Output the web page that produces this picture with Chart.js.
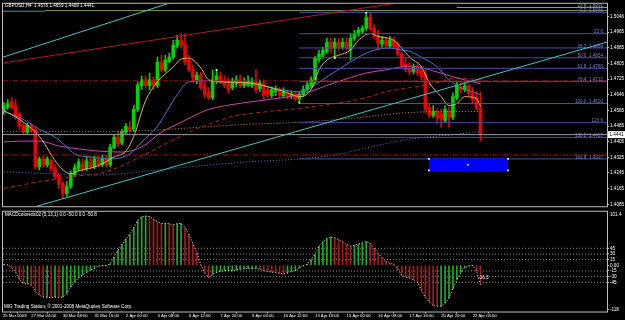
<!DOCTYPE html>
<html>
<head>
<meta charset="utf-8">
<title>GBPUSD,H4</title>
<script src="https://cdn.jsdelivr.net/npm/chart.js@4.4.1/dist/chart.umd.min.js"></script>
<style>
  html, body { margin:0; padding:0; background:#000; }
  body { width:625px; height:320px; position:relative; overflow:hidden; }
  canvas { position:absolute; left:0; }
  #mainChart { top:0; }
  #macdChart { top:208px; }
</style>
</head>
<body>
<canvas id="mainChart" width="625" height="210"></canvas>
<canvas id="macdChart" width="625" height="112"></canvas>
<script>
// ---------------- DATA ----------------
const symbolName = 'GBPUSD,H4';
const open = [
1.4559,1.4580,1.4610,1.4590,1.4549,1.4489,1.4453,1.4489,1.4469,1.4277,
1.4317,1.4287,1.4307,1.4267,1.4236,1.4191,1.4140,1.4176,1.4236,1.4267,
1.4292,1.4267,1.4302,1.4277,1.4312,1.4287,1.4317,1.4287,1.4373,1.4428,
1.4398,1.4453,1.4479,1.4469,1.4570,1.4691,1.4721,1.4691,1.4721,1.4691,
1.4812,1.4772,1.4817,1.4837,1.4893,1.4923,1.4903,1.4822,1.4772,1.4721,
1.4746,1.4691,1.4660,1.4630,1.4716,1.4741,1.4721,1.4711,1.4681,1.4701,
1.4721,1.4691,1.4696,1.4691,1.4711,1.4676,1.4701,1.4671,1.4640,1.4660,
1.4671,1.4640,1.4655,1.4635,1.4650,1.4625,1.4645,1.4671,1.4691,1.4711,
1.4827,1.4847,1.4867,1.4913,1.4883,1.4913,1.4888,1.4913,1.4873,1.4933,
1.4953,1.4968,1.4984,1.5039,1.4984,1.4948,1.4903,1.4923,1.4893,1.4923,
1.4903,1.4852,1.4802,1.4782,1.4761,1.4787,1.4772,1.4751,1.4580,1.4539,
1.4559,1.4549,1.4514,1.4559,1.4529,1.4630,1.4686,1.4671,1.4691,1.4655,
1.4630,1.4576];
const high = [
1.4605,1.4620,1.4630,1.4620,1.4554,1.4499,1.4499,1.4499,1.4479,1.4327,
1.4332,1.4327,1.4317,1.4287,1.4241,1.4201,1.4201,1.4256,1.4292,1.4317,
1.4317,1.4327,1.4327,1.4332,1.4332,1.4337,1.4337,1.4393,1.4443,1.4458,
1.4469,1.4499,1.4509,1.4590,1.4711,1.4741,1.4741,1.4756,1.4736,1.4837,
1.4847,1.4847,1.4857,1.4923,1.4948,1.4958,1.4958,1.4847,1.4797,1.4761,
1.4761,1.4711,1.4681,1.4772,1.4772,1.4761,1.4741,1.4731,1.4731,1.4741,
1.4746,1.4731,1.4741,1.4731,1.4772,1.4721,1.4721,1.4691,1.4686,1.4691,
1.4681,1.4681,1.4671,1.4665,1.4660,1.4660,1.4691,1.4711,1.4736,1.4842,
1.4873,1.4888,1.4933,1.4933,1.4933,1.4933,1.4933,1.4938,1.4958,1.4974,
1.4989,1.4999,1.5064,1.5064,1.5004,1.4974,1.4943,1.4938,1.4943,1.4938,
1.4913,1.4862,1.4832,1.4807,1.4802,1.4802,1.4792,1.4772,1.4600,1.4590,
1.4570,1.4570,1.4590,1.4580,1.4655,1.4711,1.4706,1.4706,1.4701,1.4681,
1.4660,1.4659];
const low = [
1.4544,1.4570,1.4570,1.4519,1.4469,1.4443,1.4443,1.4453,1.4267,1.4261,
1.4277,1.4277,1.4256,1.4216,1.4166,1.4115,1.4125,1.4166,1.4226,1.4256,
1.4251,1.4256,1.4267,1.4267,1.4277,1.4277,1.4277,1.4277,1.4368,1.4378,
1.4388,1.4443,1.4453,1.4458,1.4559,1.4671,1.4681,1.4671,1.4671,1.4681,
1.4761,1.4761,1.4807,1.4827,1.4883,1.4883,1.4797,1.4761,1.4711,1.4701,
1.4671,1.4630,1.4620,1.4620,1.4701,1.4701,1.4681,1.4655,1.4671,1.4686,
1.4681,1.4681,1.4686,1.4681,1.4655,1.4660,1.4620,1.4630,1.4630,1.4640,
1.4630,1.4630,1.4625,1.4625,1.4615,1.4605,1.4635,1.4660,1.4681,1.4701,
1.4812,1.4832,1.4857,1.4862,1.4832,1.4873,1.4878,1.4873,1.4822,1.4923,
1.4943,1.4958,1.4974,1.4974,1.4933,1.4873,1.4888,1.4888,1.4883,1.4883,
1.4842,1.4777,1.4761,1.4746,1.4751,1.4741,1.4721,1.4554,1.4529,1.4529,
1.4499,1.4479,1.4504,1.4479,1.4519,1.4620,1.4655,1.4660,1.4640,1.4605,
1.4570,1.4409];
const close = [
1.4590,1.4600,1.4580,1.4529,1.4484,1.4453,1.4489,1.4463,1.4277,1.4317,
1.4287,1.4317,1.4267,1.4226,1.4186,1.4140,1.4176,1.4241,1.4272,1.4302,
1.4261,1.4307,1.4277,1.4317,1.4287,1.4317,1.4287,1.4378,1.4428,1.4393,
1.4458,1.4484,1.4463,1.4570,1.4696,1.4721,1.4691,1.4721,1.4691,1.4812,
1.4772,1.4822,1.4837,1.4898,1.4923,1.4898,1.4812,1.4772,1.4731,1.4746,
1.4681,1.4645,1.4630,1.4721,1.4741,1.4711,1.4691,1.4671,1.4711,1.4721,
1.4691,1.4711,1.4716,1.4711,1.4671,1.4706,1.4640,1.4645,1.4671,1.4676,
1.4640,1.4660,1.4635,1.4650,1.4625,1.4650,1.4671,1.4696,1.4721,1.4832,
1.4852,1.4873,1.4913,1.4883,1.4913,1.4888,1.4913,1.4883,1.4933,1.4958,
1.4974,1.4984,1.5039,1.4984,1.4943,1.4908,1.4923,1.4898,1.4923,1.4893,
1.4852,1.4792,1.4772,1.4761,1.4787,1.4756,1.4736,1.4570,1.4539,1.4559,
1.4529,1.4519,1.4570,1.4529,1.4635,1.4691,1.4671,1.4691,1.4650,1.4620,
1.4576,1.4441];

// MACD histogram values (one per bar)
const macd = [
2,1,-6,-18,-38,-48,-48,-52,-68,-79,
-84,-84,-85,-84,-85,-84,-74,-57,-44,-33,
-25,-19,-12,-8,-2,-1,-1,4,22,40,
55,70,82,100,118,128,130,129,122,115,
111,111,110,107,110,111,100,82,57,33,
2,-20,-32,-24,-19,-16,-14,-14,-14,-12,
-10,-9,-8,-8,-8,-11,-14,-16,-18,-19,
-21,-23,-20,-16,-14,-6,-1,3,15,30,
51,62,71,75,73,68,62,54,51,53,
56,59,63,58,45,32,20,10,5,3,
-10,-27,-31,-34,-38,-45,-66,-85,-97,-106,
-108,-108,-100,-87,-62,-38,-19,-6,-2,-1,
-15,-50.8];

// Moving averages: [bar index, price]
const maFast = [[0,1.4564],[4,1.4519],[9,1.4433],[14,1.4282],[17,1.4241],[19,1.4256],[24,1.4282],[28,1.4327],[31,1.4357],[33,1.4433],[36,1.4615],[39,1.4711],[43,1.4787],[45,1.4827],[47,1.4832],[50,1.4782],[52,1.4721],[55,1.4711],[62,1.4706],[67,1.4686],[72,1.4655],[75,1.4635],[78,1.4671],[80,1.4772],[82,1.4822],[85,1.4847],[88,1.4873],[90,1.4923],[93,1.4958],[95,1.4943],[99,1.4923],[101,1.4883],[103,1.4837],[106,1.4787],[108,1.4706],[111,1.4635],[113,1.4590],[115,1.4600],[117,1.4635],[120,1.4625],[121,1.4585]];
const maMid = [[0,1.4559],[4,1.4529],[9,1.4469],[13,1.4428],[16,1.4378],[18,1.4342],[22,1.4327],[27,1.4317],[32,1.4342],[35,1.4403],[39,1.4484],[44,1.4645],[47,1.4711],[52,1.4716],[55,1.4711],[62,1.4706],[68,1.4681],[72,1.4665],[75,1.4660],[78,1.4681],[82,1.4736],[86,1.4787],[90,1.4837],[94,1.4873],[98,1.4883],[101,1.4873],[103,1.4867],[106,1.4837],[110,1.4787],[113,1.4721],[116,1.4681],[119,1.4660],[121,1.4645]];
const maSlow = [[0,1.4403],[4,1.4408],[9,1.4408],[14,1.4383],[19,1.4368],[24,1.4357],[30,1.4352],[35,1.4378],[40,1.4453],[45,1.4504],[50,1.4554],[52,1.4570],[58,1.4595],[67,1.4620],[75,1.4645],[84,1.4706],[92,1.4756],[97,1.4772],[103,1.4792],[110,1.4761],[115,1.4731],[121,1.4701]];
const maRedDash = [[0,1.4166],[4,1.4181],[9,1.4201],[14,1.4216],[19,1.4231],[24,1.4241],[30,1.4282],[35,1.4332],[40,1.4383],[45,1.4433],[50,1.4479],[52,1.4494],[58,1.4534],[67,1.4559],[75,1.4575],[84,1.4600],[92,1.4630],[97,1.4660],[103,1.4681],[110,1.4706],[115,1.4731],[121,1.4721]];
const maOrangeDot = [[0,1.4458],[12,1.4458],[25,1.4458],[37,1.4463],[50,1.4479],[62,1.4494],[75,1.4504],[88,1.4524],[103,1.4554],[115,1.4559],[121,1.4559]];
const maBlueDot = [[0,1.4251],[12,1.4241],[25,1.4236],[37,1.4256],[50,1.4282],[62,1.4302],[75,1.4317],[84,1.4337],[92,1.4373],[103,1.4418],[115,1.4443],[121,1.4458]];

// Objects
const trendCyanUpper = [[-0.2,1.4837],[47.3,1.5148]];
const trendRedUpper  = [[-0.2,1.4807],[105.6,1.5132]];
const trendCyanLower = [[6.3,1.4063],[153.1,1.4914]];
const dashDotLevels = [1.4716, 1.4337];
const bidPrice = 1.4441;
const fibStartIdx = 75;
const fibPrices = [1.5066,1.4957,1.4884,1.4834,1.4780,1.4712,1.4600,1.4502,1.4427,1.4317];
const fibLabels = ['0.0  1.5066','23.6','38.2  1.4884','50.0  1.4834','61.8  1.4780','76.4  1.4712','100.0  1.4600','123.6','138.2  1.4427','161.8  1.4317'];
const topTealLeft = [[-0.2,1.5072],[10.5,1.5072]];
const topOlive = [[10.5,1.5075],[153.1,1.5075]];
const topTealRight = [[115.0,1.5091],[153.1,1.5091]];
const topTealLabel = '23.6  1.5091';
const rectIdx = [107.9, 128.0];
const rectPrices = [1.4317, 1.4258];
const rectHandles = [[107.9,1.4317],[128.0,1.4317],[107.9,1.4258],[128.0,1.4258],[117.8,1.4287]];
const anchorMarks = [[54,1.4772],[75,1.4605],[92,1.5064],[84,1.4832]];

// Axes
const priceTicks = [1.5046,1.4965,1.4885,1.4805,1.4725,1.4646,1.4565,1.4485,1.4405,1.4325,1.4245,1.4165,1.4085];
const priceMin = 1.4075, priceMax = 1.5110;
const timeTickIdx = [-0.2,7,15,23,31,39,47,55,63,71,79,87,95,103,111,119];
const timeLabels = ['25 Mar 2009','27 Mar 04:00','30 Mar 08:00','31 Mar 16:00','2 Apr 00:00','3 Apr 08:00','6 Apr 12:00','7 Apr 20:00','9 Apr 04:00','10 Apr 12:00','13 Apr 16:00','15 Apr 00:00','16 Apr 08:00','17 Apr 16:00','20 Apr 20:00','22 Apr 04:00'];
const macdTicks = [45,30,15,0,-15,-30,-45,-118];
const macdLevels = [45,30,15,-15,-30,-45];
const macdMin = -122.1, macdMax = 141.6;
const macdMaxLabel = '101.4';
const macdHeader = 'MACDcoloreds02 (5,13,1) 0.0 -50.0 0.0 -50.8';
const copyrightText = 'MIG Trading Station, \u00A9 2001-2008 MetaQuotes Software Corp.';
const macdNote = {x:120.4, y:-32.5, text:'-16.3'};

// ---------------- STYLE / BUILD ----------------
const X_MIN = -0.2, X_MAX = 153.1;
const FONT = '"Liberation Sans", Arial, sans-serif';
Chart.defaults.font.family = FONT;
Chart.defaults.color = '#ffffff';
const N = open.length;
const candleUp = '#00d200', candleDown = '#e80000';
const pts = arr => arr.map(p => ({x:p[0], y:p[1]}));
const hline = (price, from) => [{x: from, y: price}, {x: X_MAX, y: price}];
function lineDs(data, color, extra) {
  return Object.assign({type:'line', data, borderColor:color, backgroundColor:color, borderWidth:1,
    pointRadius:0, pointHoverRadius:0, fill:false, tension:0, order:3, clip:0}, extra || {});
}
const candleColor = ctx => close[ctx.dataIndex] >= open[ctx.dataIndex] ? candleUp : candleDown;

const framePlugin = {
  id:'frame',
  afterDraw(chart) {
    const {ctx, chartArea:a} = chart;
    ctx.save();
    ctx.strokeStyle = '#bdbdbd';
    ctx.lineWidth = 1;
    ctx.strokeRect(a.left - 0.5, a.top - 0.5, a.right - a.left + 1, a.bottom - a.top + 1);
    ctx.restore();
  }
};

const mainTextPlugin = {
  id:'mainText',
  afterDraw(chart) {
    const {ctx, chartArea:a, scales:{y}} = chart;
    ctx.save();
    ctx.font = '4.6px ' + FONT;
    ctx.textAlign = 'left'; ctx.textBaseline = 'middle'; ctx.fillStyle = '#ffffff';
    const hdr = symbolName + '  ' + [open[N-1], high[N-1], low[N-1], close[N-1]].map(v => v.toFixed(4)).join(' ');
    ctx.fillText(hdr, a.left + 2, a.top + 2.3);
    ctx.textAlign = 'right'; ctx.textBaseline = 'alphabetic';
    ctx.fillStyle = '#7c7cd4';
    fibPrices.forEach((p, k) => { ctx.fillText(fibLabels[k], a.right - 4, y.getPixelForValue(p) - 0.3); });
    ctx.fillStyle = '#8fb0a0';
    ctx.fillText(topTealLabel, a.right - 4, y.getPixelForValue(topTealRight[0][1]) - 0.3);
    // current price box
    const py = y.getPixelForValue(close[N-1]);
    ctx.fillStyle = '#ffffff';
    ctx.fillRect(a.right + 1, py - 3.5, 17, 7);
    ctx.fillStyle = '#000000'; ctx.textAlign = 'left'; ctx.textBaseline = 'middle';
    ctx.fillText(close[N-1].toFixed(4), a.right + 2.5, py + 0.3);
    ctx.restore();
  }
};

const mainDatasets = [
  lineDs([{x:rectIdx[0],y:rectPrices[0]},{x:rectIdx[1],y:rectPrices[0]}], '#0000ff', {order:0}),
  lineDs([{x:rectIdx[0],y:rectPrices[1]},{x:rectIdx[1],y:rectPrices[1]}], '#0000ff', {order:0, fill:'-1', backgroundColor:'#0000ff'}),
  lineDs(pts(rectHandles), '#ffffff', {order:-1, showLine:false, pointRadius:1.2, pointStyle:'rect', pointBackgroundColor:'#ffffff', pointBorderWidth:0}),
  lineDs(pts(anchorMarks), '#ffffff', {order:-1, showLine:false, pointRadius:1.2, pointStyle:'rect', pointBackgroundColor:'#ffffff', pointBorderWidth:0}),
  lineDs(pts(trendCyanUpper), '#3fc4c4', {order:1}),
  lineDs(pts(trendRedUpper), '#b01822', {order:1}),
  lineDs(pts(trendCyanLower), '#3fc4c4', {order:1}),
  lineDs(pts(topTealLeft), '#2f9f9f', {order:1}),
  lineDs(pts(topOlive), '#7e9a4c', {order:1}),
  lineDs(pts(topTealRight), '#3fb8b8', {order:1}),
  ...dashDotLevels.map(p => lineDs(hline(p, X_MIN), '#a81010', {order:2, borderDash:[5,2,1,2]})),
  lineDs(hline(bidPrice, X_MIN), '#9c9c9c', {order:2}),
  ...fibPrices.map(p => lineDs(hline(p, fibStartIdx), '#4d4daa', {order:2})),
  lineDs(pts(maFast), '#e2b24a', {cubicInterpolationMode:'monotone'}),
  lineDs(pts(maMid), '#4478c8', {cubicInterpolationMode:'monotone'}),
  lineDs(pts(maSlow), '#cc44aa', {cubicInterpolationMode:'monotone'}),
  lineDs(pts(maRedDash), '#b81c2c', {cubicInterpolationMode:'monotone', borderDash:[4,3]}),
  lineDs(pts(maOrangeDot), '#d88a38', {cubicInterpolationMode:'monotone', borderDash:[1,2]}),
  lineDs(pts(maBlueDot), '#3f7fcf', {cubicInterpolationMode:'monotone', borderDash:[1,2]}),
  {type:'bar', data: open.map((o,i) => ({x:i, y:[o, close[i]]})), backgroundColor:candleColor, barThickness:3, grouped:false, order:5, minBarLength:1},
  {type:'bar', data: open.map((o,i) => ({x:i, y:[low[i], high[i]]})), backgroundColor:candleColor, barThickness:1, grouped:false, order:6}
];

new Chart(document.getElementById('mainChart'), {
  type:'bar',
  data:{datasets: mainDatasets},
  options:{
    responsive:false, animation:false, devicePixelRatio:1, events:[],
    layout:{padding:{left:3, top:3, right:0, bottom:2}},
    plugins:{legend:{display:false}, tooltip:{enabled:false}},
    scales:{
      x:{type:'linear', min:X_MIN, max:X_MAX, offset:false, display:false},
      y:{type:'linear', position:'right', min:priceMin, max:priceMax,
        afterBuildTicks: s => { s.ticks = priceTicks.map(v => ({value:v})); },
        afterFit: s => { s.width = 18; },
        ticks:{font:{size:4.6}, color:'#ffffff', padding:1, callback: v => v.toFixed(4)},
        grid:{drawOnChartArea:false, drawTicks:true, tickLength:2, color:'#bdbdbd'},
        border:{display:false}}
    }
  },
  plugins:[framePlugin, mainTextPlugin]
});

// ---------------- MACD ----------------
const macdUp = '#22aa22', macdDown = '#a81c1c';
const macdColor = ctx => { const i = ctx.dataIndex; const p = i > 0 ? macd[i-1] : macd[i]; return macd[i] >= p ? macdUp : macdDown; };
const macdTextPlugin = {
  id:'macdText',
  afterDraw(chart) {
    const {ctx, chartArea:a, scales:{x, y}} = chart;
    ctx.save();
    ctx.font = '4.6px ' + FONT;
    ctx.fillStyle = '#ffffff'; ctx.textAlign = 'left'; ctx.textBaseline = 'middle';
    ctx.fillText(macdHeader, a.left + 2, a.top + 3);
    ctx.fillText(copyrightText, a.left + 1, a.bottom - 4.8);
    ctx.fillText(macdNote.text, x.getPixelForValue(macdNote.x), y.getPixelForValue(macdNote.y));
    ctx.fillText(macdMaxLabel, a.right + 3, a.top + 2.5);
    ctx.restore();
  }
};

new Chart(document.getElementById('macdChart'), {
  type:'bar',
  data:{datasets:[
    lineDs(macd.map((v,i) => ({x:i, y:v})), '#e8e8e8', {order:1, borderDash:[1,2]}),
    ...macdLevels.map(v => lineDs(hline(v, X_MIN), '#8a8a8a', {order:3, borderDash:[1,2]})),
    {type:'bar', data: macd.map((v,i) => ({x:i, y:v})), backgroundColor:macdColor, barThickness:1, grouped:false, order:2}
  ]},
  options:{
    responsive:false, animation:false, devicePixelRatio:1, events:[],
    layout:{padding:{left:3, top:2, right:0, bottom:0}},
    plugins:{legend:{display:false}, tooltip:{enabled:false}},
    scales:{
      x:{type:'linear', min:X_MIN, max:X_MAX, offset:false, position:'bottom',
        afterBuildTicks: s => { s.ticks = timeTickIdx.map(v => ({value:v})); },
        afterFit: s => { s.height = 8.5; },
        ticks:{font:{size:4.2}, color:'#ffffff', padding:0, align:'start', autoSkip:false, maxRotation:0, minRotation:0,
          callback: (v, i) => timeLabels[i]},
        grid:{drawOnChartArea:false, drawTicks:true, tickLength:2, color:'#bdbdbd'},
        border:{display:false}},
      y:{type:'linear', position:'right', min:macdMin, max:macdMax,
        afterBuildTicks: s => { s.ticks = macdTicks.map(v => ({value:v})); },
        afterFit: s => { s.width = 18; },
        ticks:{font:{size:4.6}, color:'#ffffff', padding:1, callback: v => v === 0 ? '0.00' : String(v)},
        grid:{drawOnChartArea:false, drawTicks:true, tickLength:2, color:'#bdbdbd'},
        border:{display:false}}
    }
  },
  plugins:[framePlugin, macdTextPlugin]
});
</script>
</body>
</html>
